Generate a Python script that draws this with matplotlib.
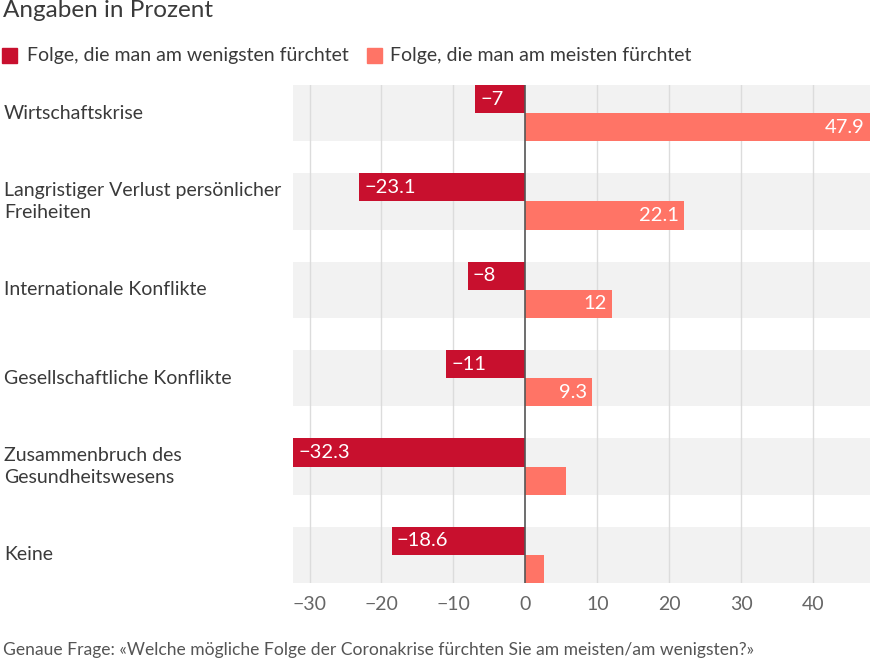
import matplotlib
matplotlib.use('Agg')
import matplotlib.pyplot as plt
import numpy as np

plt.rcParams['font.family'] = ['Lato', 'DejaVu Sans']

categories = ['Wirtschaftskrise', 'Langristiger Verlust persönlicher\nFreiheiten',
              'Internationale Konflikte', 'Gesellschaftliche Konflikte',
              'Zusammenbruch des\nGesundheitswesens', 'Keine']
least = [-7, -23.1, -8, -11, -32.3, -18.6]
most = [47.9, 22.1, 12, 9.3, 5.6, 2.6]
xticks = [-30, -20, -10, 0, 10, 20, 30, 40]

RED = '#c8102e'
SALMON = '#ff7466'
TXT = '#3a3a3a'

fig = plt.figure(figsize=(8.73, 6.65), dpi=100)
fig.patch.set_facecolor('#ffffff')
ax = fig.add_axes([293 / 873, 1 - 583 / 665, 577 / 873, 498 / 665])

h = 0.318
y = np.arange(len(categories))
for i in y:
    ax.axhspan(i - h, i + h, color='#f2f2f2', zorder=0, lw=0)
for t in xticks:
    if t != 0:
        ax.axvline(t, color='#dcdcdc', lw=1, zorder=1)

ax.barh(y - h / 2, least, height=h, color=RED, zorder=2)
ax.barh(y + h / 2, most, height=h, color=SALMON, zorder=2)
ax.axvline(0, color='#555555', lw=1.2, zorder=3)

for i in y:
    if least[i] <= -4:
        ax.text(least[i] + 0.7, i - h / 2, f'{least[i]:g}'.replace('-', '\u2212'),
                color='white', fontsize=14.5, va='center', ha='left', zorder=4)
    if most[i] >= 8:
        ax.text(most[i] - 0.7, i + h / 2, f'{most[i]:g}',
                color='white', fontsize=14.5, va='center', ha='right', zorder=4)

ax.set_xlim(-32.3, 47.9)
ax.set_ylim(len(categories) - 1 + h, -h)
ax.set_xticks(xticks)
ax.set_xticklabels([f'{t}'.replace('-', '\u2212') for t in xticks], color='#666666', fontsize=14)
ax.tick_params(axis='x', length=0, pad=9)
ax.set_yticks([])
for s in ax.spines.values():
    s.set_visible(False)

for i, c in enumerate(categories):
    yy = ax.transData.transform((0, i))[1]
    fig.text(4 / 873, yy / fig.dpi / 6.65, c, fontsize=14, color=TXT,
             va='center', ha='left', linespacing=1.3)

fig.text(3 / 873, 1 - 17 / 665, 'Angaben in Prozent', fontsize=17.5, color=TXT, va='baseline')

fig.patches.append(plt.Rectangle((2 / 873, 1 - 63 / 665), 15 / 873, 15 / 665,
                                 transform=fig.transFigure, color=RED))
fig.text(27 / 873, 1 - 56 / 665, 'Folge, die man am wenigsten fürchtet', fontsize=14, color=TXT, va='center')
fig.patches.append(plt.Rectangle((367 / 873, 1 - 63 / 665), 15 / 873, 15 / 665,
                                 transform=fig.transFigure, color=SALMON))
fig.text(390 / 873, 1 - 56 / 665, 'Folge, die man am meisten fürchtet', fontsize=14, color=TXT, va='center')

fig.text(3 / 873, 1 - 650 / 665,
         'Genaue Frage: «Welche mögliche Folge der Coronakrise fürchten Sie am meisten/am wenigsten?»',
         fontsize=12.6, color='#555555', va='center')

fig.savefig('out.png', dpi=100)
